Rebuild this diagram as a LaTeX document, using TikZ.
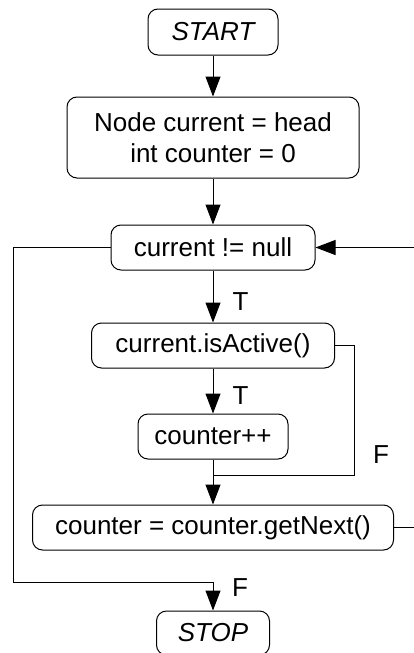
\documentclass[tikz,border=0pt]{standalone}
\usepackage{fontspec}
\setmainfont{Liberation Sans}
\usetikzlibrary{arrows.meta}

\tikzset{
    box/.style={draw, line width=1pt, rounded corners=10pt, align=center, inner sep=0pt,
        minimum height=45pt, font=\fontsize{26}{31}\selectfont},
    term/.style={box, font=\fontsize{26}{31}\selectfont\itshape},
    flow/.style={line width=1pt, -{Triangle[length=20pt,width=15pt]}},
    wire/.style={line width=1pt},
    lbl/.style={anchor=west, inner sep=0pt, xshift=19pt,
        font=\fontsize{26}{31}\selectfont},
}

\begin{document}
\begin{tikzpicture}[x=1pt, y=-1pt]
    \useasboundingbox (0,0) rectangle (414,653);

    \node[term, minimum width=130pt, minimum height=46pt] (start) at (213,32) {START};
    \node[box, minimum width=292pt, minimum height=81pt] (init) at (213,137.5)
        {Node current = head\\int counter = 0};
    \node[box, minimum width=204pt] (cond) at (213,247.5) {current != null};
    \node[box, minimum width=243pt] (active) at (213,345.5) {current.isActive()};
    \node[box, minimum width=150pt] (incr) at (213,436.5) {counter++};
    \node[box, minimum width=361pt] (next) at (213,527.5) {counter = counter.getNext()};
    \node[term, minimum width=113pt, minimum height=44pt] (stop) at (213,633) {STOP};

    \coordinate (skip_r) at (354,475);
    \coordinate (back_r) at (416,390);
    \coordinate (out_l) at (13,582);

    \draw[flow] (start) -- (init);
    \draw[flow] (init) -- (cond);
    \draw[flow] (cond) -- node[lbl, pos=0.6] (t_cond) {T} (active);
    \draw[flow] (active) -- node[lbl, pos=0.6] (t_active) {T} (incr);
    \draw[flow] (incr) -- (next);

    % false branch of isActive joins above next
    \draw[wire] (active.east) -| (skip_r) -- (skip_r -| next.north);
    \node[lbl] (f_active) at (354,455) {F};

    % loop back and exit
    \draw[flow] (next.east) -| (back_r) |- (cond.east);
    \draw[flow] (cond.west) -| (out_l) -| (stop.north);
    \node[lbl] (f_cond) at (213,588) {F};
\end{tikzpicture}
\end{document}
